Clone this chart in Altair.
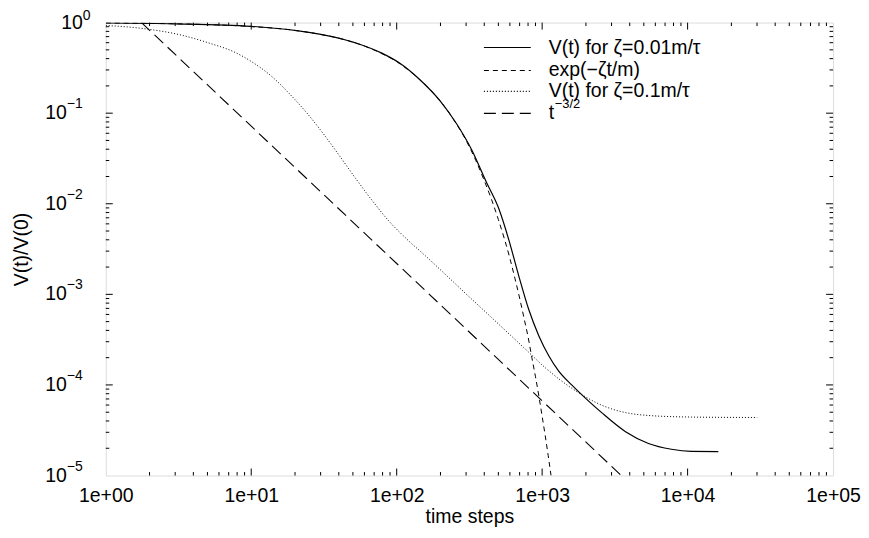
import altair as alt
import pandas as pd

# ---- data ----
solid_t = [1, 3, 10, 21, 36, 55, 79, 104, 142, 200, 260, 329, 410, 504, 590, 692, 809,
           948, 1110, 1300, 1596, 1991, 2564, 3743, 5383, 7740, 10600, 16260]
solid_v = [0.99, 0.97, 0.91, 0.81, 0.70, 0.58, 0.46, 0.36, 0.24, 0.135, 0.075, 0.039,
           0.0178, 0.0088, 0.0040, 0.00158, 6.8e-4, 3.5e-4, 2.1e-4, 1.42e-4, 1.0e-4,
           7.1e-5, 4.95e-5, 3.05e-5, 2.26e-5, 1.95e-5, 1.85e-5, 1.84e-5]

exp_t = [1, 5, 10, 20, 30, 45, 60, 80, 100, 130, 160, 200, 250, 300, 350, 400, 450, 500,
         550, 600, 650, 700, 750, 800, 850, 900, 950, 1000, 1050, 1100, 1151]
exp_v = [0.99, 0.95, 0.905, 0.82, 0.74, 0.64, 0.55, 0.45, 0.37, 0.27, 0.20, 0.135, 0.082,
         0.050, 0.030, 0.018, 0.011, 0.0067, 0.0041, 0.0025, 0.0015, 9.1e-4, 5.5e-4,
         3.4e-4, 2.0e-4, 1.23e-4, 7.5e-5, 4.5e-5, 2.75e-5, 1.67e-5, 1.0e-5]

dot_t = [1, 1.8, 3.4, 5.2, 7.5, 10.2, 14, 18.3, 23.8, 30.9, 40.3, 52.4, 68, 88.7, 115,
         158, 217, 298, 408, 560, 768, 1054, 1300, 1596, 2090, 2564, 3743, 5383, 10600, 30100]
dot_v = [0.93, 0.86, 0.72, 0.59, 0.48, 0.365, 0.25, 0.164, 0.103, 0.061, 0.0341, 0.0189,
         0.0108, 0.0064, 0.0042, 0.00265, 0.00165, 0.00102, 6.4e-4, 3.98e-4, 2.48e-4,
         1.54e-4, 1.17e-4, 9.2e-5, 7.05e-5, 5.98e-5, 4.95e-5, 4.6e-5, 4.42e-5, 4.37e-5]

pow_t = [1.76, 3500]
pow_v = [1.0, 1.0e-5]

legend_labels = ["V(t) for ζ=0.01m/τ", "exp(−ζt/m)", "V(t) for ζ=0.1m/τ", "t"]
x_major = [1, 10, 100, 1000, 10000, 100000]
y_major = [1e-5, 1e-4, 1e-3, 1e-2, 1e-1, 1]
y_exps = ["−5", "−4", "−3", "−2", "−1", "0"]

FONT = "Liberation Sans"
FS = 19.5
W, H = 729, 454

x_minor = [m * d for d in x_major[:-1] for m in range(2, 10)]
y_minor = [m * d for d in y_major[:-1] for m in range(2, 10)]

xs = alt.Scale(type="log", domain=[1, 100000], nice=False)
ys = alt.Scale(type="log", domain=[1e-5, 1], nice=False)

X = alt.X("t:Q", scale=xs, axis=alt.Axis(
    title="time steps", values=x_major,
    labelExpr="'1e+0' + round(log(datum.value)/LN10)",
    labelFont=FONT, labelFontSize=FS, labelColor="black", labelPadding=11,
    labelFlush=False, labelOverlap=False,
    titleFont=FONT, titleFontSize=FS, titleFontWeight="normal", titleColor="black",
    titlePadding=3, ticks=False, domain=False, grid=False))
Y = alt.Y("v:Q", scale=ys, axis=alt.Axis(
    title="V(t)/V(0)", labels=False, ticks=False, domain=False, grid=False,
    titleFont=FONT, titleFontSize=FS, titleFontWeight="normal", titleColor="black",
    titleX=-84, titleY=H / 2, titleAngle=-90, titleAlign="center", titleBaseline="middle"))


def series(t, v, dash, sw):
    df = pd.DataFrame({"t": t, "v": v})
    mk = dict(color="black", strokeWidth=sw, interpolate="monotone", clip=True)
    if dash:
        mk["strokeDash"] = dash
    return alt.Chart(df).mark_line(**mk).encode(x=X, y=Y)


layers = [
    series(solid_t, solid_v, None, 1.2),
    series(exp_t, exp_v, [5, 4], 1.0),
    series(dot_t, dot_v, [1, 2], 1.0),
    series(pow_t, pow_v, [12, 6], 1.1),
]


# inward ticks on all four sides
def xticks(vals, L):
    df = pd.DataFrame({"t": vals})
    b = alt.Chart(df).mark_rule(color="black", strokeWidth=1).encode(
        x=alt.X("t:Q", scale=xs), y=alt.value(H), y2=alt.value(H - L))
    t = alt.Chart(df).mark_rule(color="black", strokeWidth=1).encode(
        x=alt.X("t:Q", scale=xs), y=alt.value(0), y2=alt.value(L))
    return [b, t]


def yticks(vals, L):
    df = pd.DataFrame({"v": vals})
    l = alt.Chart(df).mark_rule(color="black", strokeWidth=1).encode(
        y=alt.Y("v:Q", scale=ys), x=alt.value(0), x2=alt.value(L))
    r = alt.Chart(df).mark_rule(color="black", strokeWidth=1).encode(
        y=alt.Y("v:Q", scale=ys), x=alt.value(W), x2=alt.value(W - L))
    return [l, r]


layers += xticks(x_major[1:-1], 7) + xticks(x_minor, 3.5)
layers += yticks(y_major[1:-1], 7) + yticks(y_minor, 3.5)

# y tick labels 10^k
ylab = pd.DataFrame({"v": y_major, "e": y_exps})
for cond, xo, dy in [("datum.v < 0.5", -39, -9), ("datum.v > 0.5", -23, -7)]:
    layers.append(alt.Chart(ylab).transform_filter(cond).mark_text(
        align="right", baseline="middle", font=FONT, fontSize=FS, color="black").encode(
        y=alt.Y("v:Q", scale=ys), x=alt.value(xo), text=alt.value("10")))
    layers.append(alt.Chart(ylab).transform_filter(cond).mark_text(
        align="left", baseline="middle", font=FONT, fontSize=14, color="black", dy=dy).encode(
        y=alt.Y("v:Q", scale=ys), x=alt.value(xo), text="e:N"))

# manual key (top right, inside the frame)
key_dash = [None, [5, 4], [1, 2], [12, 6]]
key_y = [25, 48, 69, 91]
dummy = pd.DataFrame({"a": [0]})
for lab, dash, ky in zip(legend_labels, key_dash, key_y):
    mk = dict(color="black", strokeWidth=1.1)
    if dash:
        mk["strokeDash"] = dash
    layers.append(alt.Chart(dummy).mark_rule(**mk).encode(
        x=alt.value(379), x2=alt.value(426), y=alt.value(ky)))
    layers.append(alt.Chart(dummy).mark_text(
        align="left", baseline="middle", font=FONT, fontSize=FS, color="black").encode(
        x=alt.value(444), y=alt.value(ky), text=alt.value(lab)))
layers.append(alt.Chart(dummy).mark_text(
    align="left", baseline="middle", font=FONT, fontSize=13, color="black", dy=-9).encode(
    x=alt.value(450), y=alt.value(key_y[3]), text=alt.value("−3/2")))

chart = alt.layer(*layers).properties(
    width=W, height=H,
    autosize=alt.AutoSizeParams(type="none"),
    padding={"left": 98, "top": 14, "right": 28, "bottom": 60},
).configure_view(stroke="black", strokeWidth=1.2).configure(background="white")

chart.save("out.html", embed_options={"renderer": "svg", "actions": False})
